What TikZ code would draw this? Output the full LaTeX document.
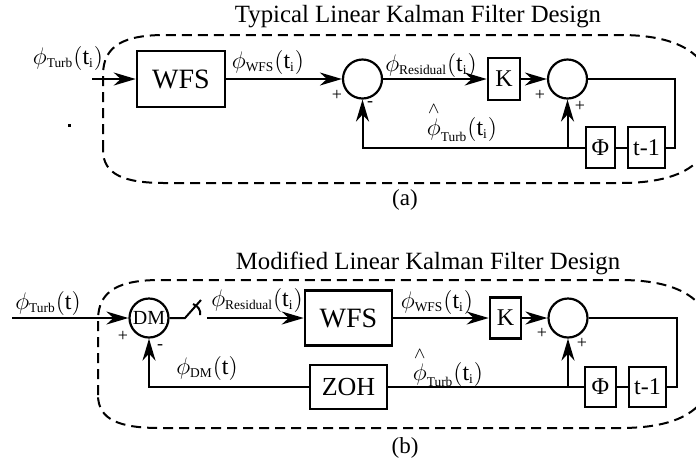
\RequirePackage{fix-cm}
\documentclass[tikz,border=0pt]{standalone}
\usepackage{amsmath}
\usepackage{fontspec}
\setmainfont{Liberation Serif}
\usetikzlibrary{arrows.meta}

\newcommand{\lowtext}[1]{\text{\fontsize{6.7}{8}\selectfont #1}}

\tikzset{
  block/.style={draw, line width=1.3pt, inner sep=0pt, font=\fontsize{12}{14}\selectfont},
  bigblock/.style={block, font=\fontsize{14}{16}\selectfont},
  sumnode/.style={draw, circle, line width=1.1pt, minimum size=19.5pt, inner sep=0pt},
  flow/.style={line width=1pt, -{Stealth[length=11pt, width=6.5pt, inset=3.5pt]}},
  wire/.style={line width=1pt},
  kalmanframe/.style={line width=1pt, dash pattern=on 5pt off 3pt},
  sig/.style={font=\fontsize{12}{14}\selectfont, inner sep=0pt},
  sumsign/.style={font=\fontsize{9}{10}\selectfont, inner sep=0pt},
  heading/.style={font=\fontsize{12.4}{14}\selectfont, inner sep=0pt},
}

\begin{document}
\begin{tikzpicture}[x=0.5pt, y=-0.5pt]
    \useasboundingbox (0,0) rectangle (696,463);
    \clip (0,0) rectangle (696,463);

    % Panel (a): typical design
    \node[heading] (titleA) at (418,17) {Typical Linear Kalman Filter Design};
    \draw[kalmanframe] (103,150) -- (103,75) .. controls (103,45) and (125,35) .. (165,35)
        -- (620,35) .. controls (700,35) and (715,70) .. (715,109)
        .. controls (715,150) and (700,183) .. (620,183)
        -- (165,183) .. controls (125,183) and (103,175) .. (103,150);

    \node[bigblock, minimum width=44pt, minimum height=28pt] (wfsA) at (181,79) {WFS};
    \node[sumnode] (sumA) at (362.5,79) {};
    \node[block, minimum width=16pt, minimum height=21pt] (kA) at (504,79) {K};
    \node[sumnode] (sumKA) at (567.5,79) {};
    \node[block, minimum width=14.5pt, minimum height=20.5pt] (phiA) at (600.5,147.5) {Φ};
    \node[block, minimum width=18.5pt, minimum height=20.5pt] (delayA) at (646.5,147.5) {t-1};
    \coordinate (inA) at (92,79);
    \coordinate (outA) at (675,79);

    \draw[flow] (inA) -- (wfsA);
    \draw[flow] (wfsA) -- (sumA);
    \draw[flow] (sumA) -- (kA);
    \draw[flow] (kA) -- (sumKA);
    \draw[wire] (sumKA) -- (outA) |- (delayA);
    \draw[wire] (delayA) -- (phiA);
    \draw[flow] (phiA.west) -| (sumA.south);
    \draw[flow] (sumKA.south |- phiA.west) -- (sumKA.south);

    % signal labels
    \node[sig] (turbA) at (68,58) {$\phi_{\lowtext{Turb}}(\text{t}_{\lowtext{i}})$};
    \node[sig] (wfsLblA) at (268,62) {$\phi_{\lowtext{WFS}}(\text{t}_{\lowtext{i}})$};
    \node[sig] (resA) at (431,65) {$\phi_{\lowtext{Residual}}(\text{t}_{\lowtext{i}})$};
    \node[sig] (estA) at (462,122) {$\overset{\wedge}{\phi}_{\lowtext{Turb}}(\text{t}_{\lowtext{i}})$};
    \node[sumsign] (plusA) at (337,95) {+};
    \node[sumsign] (minusA) at (370,104) {-};
    \node[sumsign] (plusKA) at (540,95) {+};
    \node[sumsign] (plusFA) at (580,106) {+};
    \fill (67.5,123.5) rectangle (71,127);
    \node[heading, font=\fontsize{11.5}{13}\selectfont] (capA) at (405,200) {(a)};

    % Panel (b): modified design
    \node[heading] (titleB) at (428,263) {Modified Linear Kalman Filter Design};
    \draw[kalmanframe] (98,395) -- (98,320) .. controls (98,290) and (120,280) .. (160,280)
        -- (620,280) .. controls (700,280) and (715,315) .. (715,354)
        .. controls (715,395) and (700,428) .. (620,428)
        -- (160,428) .. controls (120,428) and (98,420) .. (98,395);

    \node[sumnode, font=\fontsize{10}{12}\selectfont] (dmB) at (149,318) {DM};
    \node[bigblock, minimum width=43.5pt, minimum height=27.5pt] (wfsB) at (348.5,318) {WFS};
    \node[block, minimum width=15.5pt, minimum height=20.5pt] (kB) at (505.5,318) {K};
    \node[sumnode] (sumKB) at (568,318) {};
    \node[block, minimum width=15.5pt, minimum height=20pt] (phiB) at (600.5,387) {Φ};
    \node[block, minimum width=18.5pt, minimum height=20pt] (delayB) at (647.5,387) {t-1};
    \node[block, font=\fontsize{13}{15}\selectfont, minimum width=38.5pt, minimum height=22pt] (zohB) at (348.5,387) {ZOH};
    \coordinate (inB) at (12,318);
    \coordinate (swOpen) at (185,318);
    \coordinate (swTip) at (201,300);
    \coordinate (swClose) at (207,318);
    \coordinate (outB) at (677,318);

    \draw[flow] (inB) -- (dmB);
    \draw[wire] (dmB) -- (swOpen) -- (swTip);
    \draw[wire] (193,304) .. controls (198,306) and (201,310) .. (200,315);
    \draw[flow] (swClose) -- (wfsB);
    \draw[flow] (wfsB) -- (kB);
    \draw[flow] (kB) -- (sumKB);
    \draw[wire] (sumKB) -- (outB) |- (delayB);
    \draw[wire] (delayB) -- (phiB);
    \draw[wire] (phiB) -- (zohB);
    \draw[flow] (zohB.west) -| (dmB.south);
    \draw[flow] (sumKB.south |- phiB.west) -- (sumKB.south);

    % signal labels
    \node[sig] (turbB) at (48,303) {$\phi_{\lowtext{Turb}}(\text{t})$};
    \node[sig] (resB) at (257,300) {$\phi_{\lowtext{Residual}}(\text{t}_{\lowtext{i}})$};
    \node[sig] (wfsLblB) at (437,302) {$\phi_{\lowtext{WFS}}(\text{t}_{\lowtext{i}})$};
    \node[sig] (estB) at (448,367) {$\overset{\wedge}{\phi}_{\lowtext{Turb}}(\text{t}_{\lowtext{i}})$};
    \node[sig] (dmLblB) at (207,368) {$\phi_{\lowtext{DM}}(\text{t})$};
    \node[sumsign] (plusB) at (123,336) {+};
    \node[sumsign] (minusB) at (160,347) {-};
    \node[sumsign] (plusKB) at (542,333) {+};
    \node[sumsign] (plusFB) at (582,343) {+};
    \node[heading, font=\fontsize{11.5}{13}\selectfont] (capB) at (405,448) {(b)};
\end{tikzpicture}
\end{document}
